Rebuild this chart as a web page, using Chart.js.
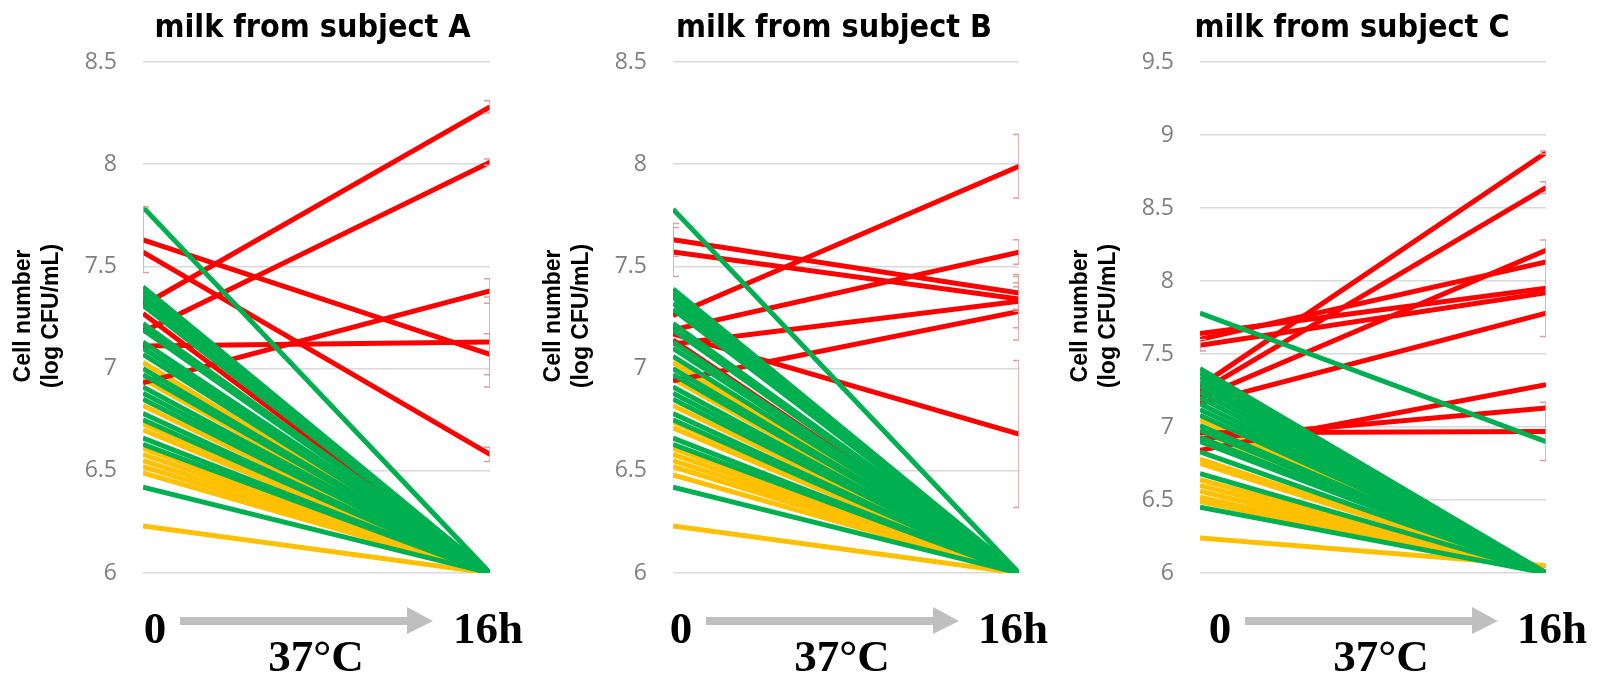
<!DOCTYPE html>
<html>
<head>
<meta charset="utf-8">
<script src="https://cdn.jsdelivr.net/npm/chart.js@4.4.0/dist/chart.umd.min.js"></script>
<style>
  body { margin: 0; background: #fff; width: 1615px; height: 678px; overflow: hidden; position: relative; }
  canvas { position: absolute; top: 0; }
</style>
</head>
<body>
<canvas id="chartA" width="540" height="678" style="left:0px"></canvas>
<canvas id="chartB" width="540" height="678" style="left:530px"></canvas>
<canvas id="chartC" width="558" height="678" style="left:1057px"></canvas>
<script>
const times = ['0', '16h'];
const yTitle = ['Cell number', '(log CFU/mL)'];

// subject A
const aRed0 = [7.31, 7.18, 7.63, 7.57, 6.93, 7.11, 7.27, 7.20];
const aRed16 = [8.28, 8.01, 7.07, 6.58, 7.38, 7.13, 6.00, 6.00];
const aRedErr0 = [0, 0, 0.16, 0, 0, 0, 0, 0];
const aRedErr16 = [0.03, 0.015, 0.1, 0.035, 0.06, 0.22, 0, 0];
const aGreen0 = [7.79, 7.40, 7.38, 7.36, 7.34, 7.31, 7.22, 7.19, 7.13, 7.10, 7.07, 7.00, 6.97, 6.91, 6.88, 6.85, 6.78, 6.75, 6.66, 6.63, 6.42];
const aGreen16 = [6, 6, 6, 6, 6, 6, 6, 6, 6, 6, 6, 6, 6, 6, 6, 6, 6, 6, 6, 6, 6];
const aYellow0 = [7.03, 6.95, 6.82, 6.73, 6.70, 6.61, 6.58, 6.55, 6.52, 6.49, 6.23];
const aYellow16 = [6, 6, 6, 6, 6, 6, 6, 6, 6, 6, 6];

// subject B
const bRed0 = [7.63, 7.57, 7.26, 7.19, 7.12, 6.94, 7.17, 7.14];
const bRed16 = [7.37, 7.34, 7.99, 7.57, 7.33, 7.28, 6.68, 6.00];
const bRedErr0 = [0.08, 0.12, 0, 0, 0, 0, 0, 0];
const bRedErr16 = [0.08, 0.06, 0.155, 0.06, 0.13, 0.14, 0.36, 0];
const bGreen0 = [7.78, 7.39, 7.37, 7.35, 7.32, 7.29, 7.22, 7.19, 7.13, 7.10, 7.06, 7.00, 6.97, 6.91, 6.88, 6.85, 6.78, 6.75, 6.66, 6.63, 6.42];
const bGreen16 = [6, 6, 6, 6, 6, 6, 6, 6, 6, 6, 6, 6, 6, 6, 6, 6, 6, 6, 6, 6, 6];
const bYellow0 = [7.03, 6.95, 6.82, 6.74, 6.71, 6.61, 6.58, 6.55, 6.52, 6.48, 6.23];
const bYellow16 = [6, 6, 6, 6, 6, 6, 6, 6, 6, 6, 6];

// subject C
const cRed0 = [7.28, 7.24, 7.20, 7.60, 7.64, 7.56, 7.16, 6.84, 6.92, 6.96];
const cRed16 = [8.88, 8.64, 8.21, 8.13, 7.95, 7.92, 7.78, 7.29, 7.13, 6.97];
const cRedErr0 = [0, 0, 0, 0, 0, 0.04, 0, 0, 0, 0];
const cRedErr16 = [0.01, 0.04, 0, 0, 0.33, 0, 0, 0, 0, 0.2];
const cGreen0 = [7.78, 7.40, 7.37, 7.34, 7.31, 7.28, 7.24, 7.20, 7.16, 7.12, 7.08, 7.01, 6.98, 6.93, 6.90, 6.83, 6.68, 6.45];
const cGreen16 = [6.90, 6, 6, 6, 6, 6, 6, 6, 6, 6, 6, 6, 6, 6, 6, 6, 6, 6];
const cYellow0 = [7.05, 6.97, 6.78, 6.75, 6.64, 6.60, 6.56, 6.52, 6.49, 6.24];
const cYellow16 = [6, 6, 6, 6, 6, 6, 6, 6, 6, 6.05];

const RED = '#ff0000';
const GREEN = '#00b050';
const YELLOW = '#ffc000';
const NARROW = '"Liberation Sans Narrow", "Arial Narrow", "DejaVu Sans Condensed", sans-serif';
const SERIF = '"Liberation Serif", "Times New Roman", serif';

const panelDeco = {
  id: 'panelDeco',
  afterDatasetsDraw(chart, args, opts) {
    const { ctx, chartArea: a, scales: { x, y } } = chart;
    ctx.save();
    ctx.beginPath();
    ctx.rect(a.left, a.top, a.right - a.left, a.bottom - a.top);
    ctx.clip();
    ctx.strokeStyle = '#e79b9b';
    ctx.lineWidth = 1.5;
    const bars = [[0, opts.start, opts.err0], [1, opts.end, opts.err16]];
    bars.forEach(([xi, vals, errs]) => {
      const xp = x.getPixelForValue(xi);
      vals.forEach((v, i) => {
        const e = errs[i];
        if (!e) return;
        const y1 = y.getPixelForValue(v + e), y2 = y.getPixelForValue(v - e);
        ctx.beginPath();
        ctx.moveTo(xp, y1); ctx.lineTo(xp, y2);
        ctx.moveTo(xp - 6, y1); ctx.lineTo(xp + 6, y1);
        ctx.moveTo(xp - 6, y2); ctx.lineTo(xp + 6, y2);
        ctx.stroke();
      });
    });
    ctx.restore();
  },
  afterDraw(chart, args, opts) {
    const { ctx, chartArea: a } = chart;
    const L = a.left + opts.shift, R = a.right + opts.shift;
    ctx.save();
    ctx.fillStyle = '#000';
    ctx.textBaseline = 'alphabetic';
    ctx.textAlign = 'center';
    ctx.font = 'bold 32px ' + NARROW;
    ctx.fillText(opts.title, (a.left + a.right) / 2 + opts.titleDx, 37);

    // y axis title, two rotated lines
    ctx.save();
    ctx.font = 'bold 23px "Liberation Sans", Arial, sans-serif';
    ctx.textBaseline = 'middle';
    ctx.translate(a.left - 119, 316);
    ctx.rotate(-Math.PI / 2);
    ctx.fillText(yTitle[0], 0, 0);
    ctx.fillText(yTitle[1], 0, 28);
    ctx.restore();

    ctx.font = 'bold 45px ' + SERIF;
    ctx.fillText('0', L + 12, 643);
    ctx.fillText('16h', R - 2, 643);
    ctx.fillText('37°C', L + 173, 671);

    // grey arrow
    ctx.fillStyle = '#bfbfbf';
    ctx.beginPath();
    ctx.moveTo(L + 37, 617);
    ctx.lineTo(L + 264, 617);
    ctx.lineTo(L + 264, 607);
    ctx.lineTo(L + 290, 621);
    ctx.lineTo(L + 264, 634);
    ctx.lineTo(L + 264, 625);
    ctx.lineTo(L + 37, 625);
    ctx.closePath();
    ctx.fill();
    ctx.restore();
  }
};

function lineSets(starts, ends, color) {
  return starts.map((s, i) => ({
    data: [s, ends[i]],
    borderColor: color,
    backgroundColor: color,
    borderWidth: 5,
    pointRadius: 0,
    tension: 0,
    clip: 0
  }));
}

function makePanel(id, p) {
  const datasets = [
    ...lineSets(p.green0, p.green16, GREEN),
    ...lineSets(p.red0, p.red16, RED),
    ...lineSets(p.yellow0, p.yellow16, YELLOW)
  ];
  new Chart(document.getElementById(id), {
    type: 'line',
    data: { labels: times, datasets: datasets },
    options: {
      responsive: false,
      animation: false,
      events: [],
      layout: { padding: { left: 0, top: 62, right: p.padRight, bottom: 105 } },
      plugins: {
        legend: { display: false },
        tooltip: { enabled: false },
        panelDeco: {
          title: p.title, titleDx: p.titleDx, shift: p.shift,
          start: p.red0, end: p.red16, err0: p.err0, err16: p.err16
        }
      },
      scales: {
        x: { display: false, offset: false },
        y: {
          min: 6,
          max: p.yMax,
          afterFit: s => { s.width = 143; },
          border: { display: false },
          grid: { color: '#d9d9d9', lineWidth: 1.5, drawTicks: false },
          ticks: {
            stepSize: 0.5,
            padding: 26,
            color: '#7f7f7f',
            font: { family: 'Open Sans', size: 23 },
            callback: v => String(Math.round(v * 10) / 10)
          }
        }
      }
    },
    plugins: [panelDeco]
  });
}

makePanel('chartA', {
  title: 'milk from subject A', titleDx: -4, shift: 0, yMax: 8.5, padRight: 50,
  red0: aRed0, red16: aRed16, err0: aRedErr0, err16: aRedErr16,
  green0: aGreen0, green16: aGreen16, yellow0: aYellow0, yellow16: aYellow16
});
makePanel('chartB', {
  title: 'milk from subject B', titleDx: -12, shift: -4, yMax: 8.5, padRight: 51,
  red0: bRed0, red16: bRed16, err0: bRedErr0, err16: bRedErr16,
  green0: bGreen0, green16: bGreen16, yellow0: bYellow0, yellow16: bYellow16
});
makePanel('chartC', {
  title: 'milk from subject C', titleDx: -21, shift: 8, yMax: 9.5, padRight: 69,
  red0: cRed0, red16: cRed16, err0: cRedErr0, err16: cRedErr16,
  green0: cGreen0, green16: cGreen16, yellow0: cYellow0, yellow16: cYellow16
});
</script>
</body>
</html>
